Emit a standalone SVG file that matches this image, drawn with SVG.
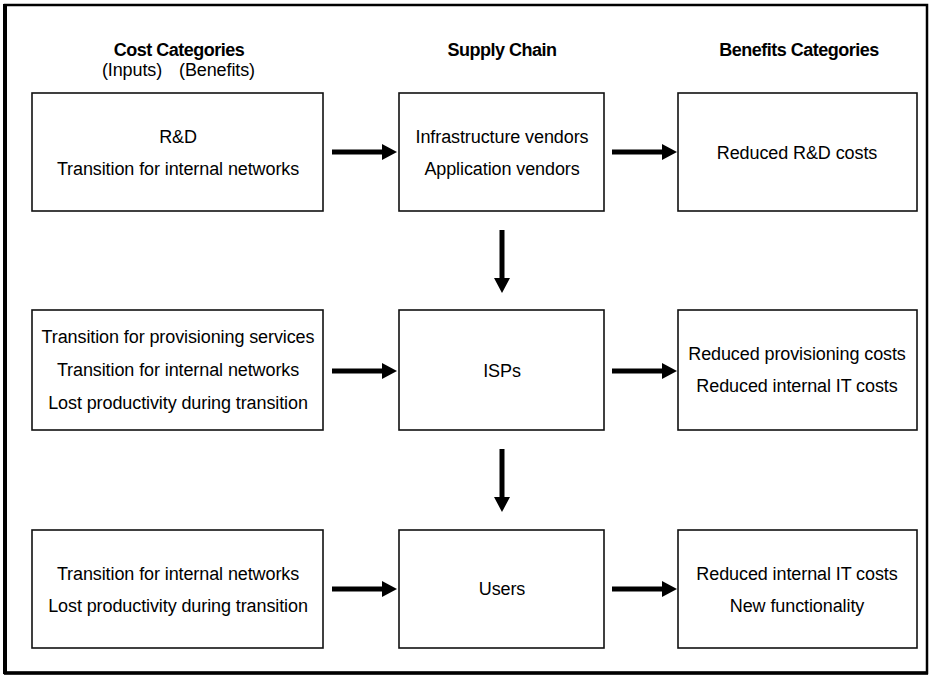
<svg xmlns="http://www.w3.org/2000/svg" width="930" height="677" viewBox="0 0 930 677">
<defs>
<style>
.box{fill:#fff;stroke:#111;stroke-width:1.6}
.t{font-family:"Liberation Sans",Arial,sans-serif;font-size:18px;fill:#000;text-anchor:middle;letter-spacing:-0.1px}
.h{font-family:"Liberation Sans",Arial,sans-serif;font-size:18px;font-weight:bold;fill:#000;text-anchor:middle;letter-spacing:-0.5px}
.c{stroke:#000;stroke-width:5;fill:none;marker-end:url(#ah)}
</style>
<marker id="ah" markerWidth="3" markerHeight="3.2" refX="0.6" refY="1.6" orient="auto" markerUnits="strokeWidth" viewBox="0 0 3 3.2">
<path d="M0,0 L3,1.6 L0,3.2 Z" fill="#000"/>
</marker>
</defs>
<rect width="930" height="677" fill="#fff"/>
<rect x="5" y="5" width="922" height="668" fill="none" stroke="#000" stroke-width="2.5"/>
<line x1="5" y1="4" x2="5" y2="674" stroke="#000" stroke-width="4"/>
<line x1="4" y1="673" x2="928" y2="673" stroke="#000" stroke-width="3.5"/>
<g id="headers">
<text class="h" x="179" y="56">Cost Categories</text>
<text class="t" x="132" y="76">(Inputs)</text>
<text class="t" x="217" y="76">(Benefits)</text>
<text class="h" x="502" y="56">Supply Chain</text>
<text class="h" x="799" y="56">Benefits Categories</text>
</g>
<g id="cost1"><rect class="box" x="32" y="93" width="291" height="118"/>
<text class="t" x="178" y="143">R&amp;D</text>
<text class="t" x="178" y="175">Transition for internal networks</text></g>
<g id="supply1"><rect class="box" x="399" y="93" width="205" height="118"/>
<text class="t" x="502" y="143">Infrastructure vendors</text>
<text class="t" x="502" y="175">Application vendors</text></g>
<g id="benefit1"><rect class="box" x="678" y="93" width="239" height="118"/>
<text class="t" x="797" y="159">Reduced R&amp;D costs</text></g>
<g id="cost2"><rect class="box" x="32" y="310" width="291" height="120"/>
<text class="t" x="178" y="343">Transition for provisioning services</text>
<text class="t" x="178" y="376">Transition for internal networks</text>
<text class="t" x="178" y="409">Lost productivity during transition</text></g>
<g id="supply2"><rect class="box" x="399" y="310" width="205" height="120"/>
<text class="t" x="502" y="377">ISPs</text></g>
<g id="benefit2"><rect class="box" x="678" y="310" width="239" height="120"/>
<text class="t" x="797" y="360">Reduced provisioning costs</text>
<text class="t" x="797" y="392">Reduced internal IT costs</text></g>
<g id="cost3"><rect class="box" x="32" y="530" width="291" height="118"/>
<text class="t" x="178" y="580">Transition for internal networks</text>
<text class="t" x="178" y="612">Lost productivity during transition</text></g>
<g id="supply3"><rect class="box" x="399" y="530" width="205" height="118"/>
<text class="t" x="502" y="595">Users</text></g>
<g id="benefit3"><rect class="box" x="678" y="530" width="239" height="118"/>
<text class="t" x="797" y="580">Reduced internal IT costs</text>
<text class="t" x="797" y="612">New functionality</text></g>
<g id="connectors">
<line class="c" x1="332" y1="152" x2="385" y2="152"/>
<line class="c" x1="612" y1="152" x2="665" y2="152"/>
<line class="c" x1="502" y1="230" x2="502" y2="281"/>
<line class="c" x1="332" y1="371" x2="385" y2="371"/>
<line class="c" x1="612" y1="371" x2="665" y2="371"/>
<line class="c" x1="502" y1="449" x2="502" y2="500"/>
<line class="c" x1="332" y1="589" x2="385" y2="589"/>
<line class="c" x1="612" y1="589" x2="665" y2="589"/>
</g>
</svg>
